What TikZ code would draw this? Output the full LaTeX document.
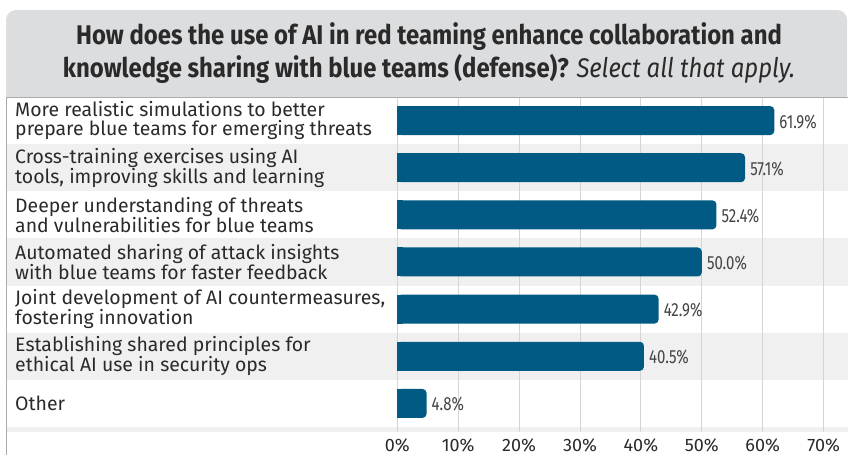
\documentclass[tikz,border=0pt]{standalone}
\usepackage{fontspec}
\setmainfont{Fira Sans}
\newfontfamily\titlefont[FakeStretch=0.885]{Fira Sans}
\newfontfamily\valfont[FakeStretch=0.79]{Fira Sans}
\definecolor{headfill}{HTML}{DCDDDF}
\definecolor{rowgray}{HTML}{F0F0F0}
\definecolor{gridcol}{HTML}{D4D4D4}
\definecolor{bordercol}{HTML}{ABABAB}
\definecolor{barcol}{HTML}{005A84}
\definecolor{txtcol}{HTML}{2A2A2A}
\definecolor{valcol}{HTML}{444444}
\tikzset{
  lbl/.style={anchor=west, align=left, inner sep=0pt, text=txtcol,
    font=\fontsize{19.45}{18.2}\selectfont},
  val/.style={anchor=west, inner sep=0pt, text=valcol,
    font=\valfont\fontsize{19}{22}\selectfont},
  axl/.style={anchor=center, inner sep=0pt, text=txtcol,
    font=\fontsize{18}{20}\selectfont},
  ttl/.style={anchor=center, align=center, inner sep=0pt, text=txtcol,
    font=\titlefont\fontsize{27}{32.4}\selectfont},
  barfill/.style={fill=barcol},
  grid line/.style={draw=gridcol, line width=1pt}
}
\begin{document}
\begin{tikzpicture}[x=1pt,y=-1pt]
\useasboundingbox (0,0) rectangle (848,455);
% header
\fill[headfill] (6,97) {[rounded corners=10] -- (6,10) -- (847,10)} -- (847,97) -- cycle;
\node[ttl] (title) at (429,53) {\bfseries How does the use of AI in red teaming enhance collaboration and\\
  \bfseries knowledge sharing with blue teams (defense)? \mdseries\itshape Select all that apply.};
% row stripes
\foreach \i in {2,4,6} {
  \fill[rowgray] (7,{97+(\i-1)*47.14}) rectangle (848,{97+\i*47.14});
}
\fill[rowgray] (7,427) rectangle (848,432);
% grid lines and axis labels
\foreach \k/\t in {0/0\%,1/10\%,2/20\%,3/30\%,4/40\%,5/50\%,6/60\%,7/70\%} {
  \draw[grid line] ({397.3+60.9*\k},97) -- ({397.3+60.9*\k},432);
  \node[axl] (ax\k) at ({397.3+60.9*\k},445) {\t};
}
% borders
\draw[bordercol, line width=1pt] (6,97) -- (848,97);
\draw[bordercol, line width=1.2pt] (6.5,97) -- (6.5,455);
% bars
\foreach \i/\v/\t in {
  1/61.9/{More realistic simulations to better\\prepare blue teams for emerging threats},
  2/57.1/{Cross-training exercises using AI\\tools, improving skills and learning},
  3/52.4/{Deeper understanding of threats\\and vulnerabilities for blue teams},
  4/50.0/{Automated sharing of attack insights\\with blue teams for faster feedback},
  5/42.9/{Joint development of AI countermeasures,\\fostering innovation},
  6/40.5/{Establishing shared principles for\\ethical AI use in security ops},
  7/4.8/{Other}} {
  \pgfmathsetmacro{\yc}{97+(\i-0.5)*47.14}
  \pgfmathsetmacro{\xe}{397.3+6.09*\v}
  \fill[barfill, rounded corners=4] (397.3,{\yc-14.5}) rectangle (\xe,{\yc+14.5});
  \fill[barfill] (397.3,{\yc-14.5}) rectangle (403,{\yc+14.5});
  \node[lbl] (lab\i) at (15,\yc) {\t};
  \node[val] (val\i) at ({\xe+5},{\yc+1}) {\v\%};
}
\end{tikzpicture}
\end{document}
